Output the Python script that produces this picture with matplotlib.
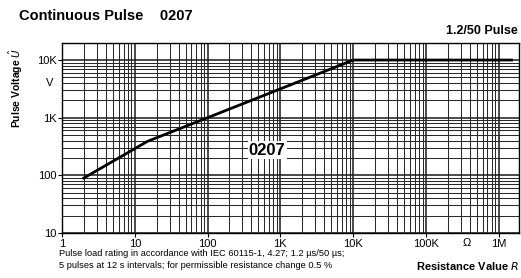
import matplotlib
matplotlib.use("Agg")
import matplotlib.pyplot as plt
from matplotlib.ticker import NullFormatter, LogLocator
from matplotlib.transforms import blended_transform_factory

plt.rcParams['font.family'] = ['Liberation Sans', 'DejaVu Sans']

# curve data (resistance in ohm, pulse voltage in V)
res = [2, 15, 100, 10000, 1.5e6]
volt = [90, 390, 1000, 10000, 10000]

x_ticks = [1, 10, 100, 1e3, 1e4, 1e5, 1e6]
x_labels = ['1', '10', '100', '1K', '10K', '100K', '1M']
y_ticks = [10, 100, 1e3, 1e4]
y_labels = ['10', '100', '1K', '10K']
x_unit_pos = 3.6e5   # position of the unit label "Ω"
y_unit_pos = 4.0e3   # position of the unit label "V"

fig = plt.figure(figsize=(5.21, 2.78), dpi=100)
ax = fig.add_axes([62/521, 1-233/278, (519-62)/521, (233-42.7)/278])
ax.set_xscale('log')
ax.set_yscale('log')
ax.set_xlim(1, 1.9e6)
ax.set_ylim(10, 2.0e4)

ax.xaxis.set_minor_locator(LogLocator(base=10, subs=range(2, 10), numticks=20))
ax.yaxis.set_minor_locator(LogLocator(base=10, subs=range(2, 10), numticks=20))
ax.xaxis.set_minor_formatter(NullFormatter())
ax.yaxis.set_minor_formatter(NullFormatter())

ax.grid(True, which='minor', color='#2a2a2a', linewidth=0.75)
ax.grid(True, which='major', color='#1a1a1a', linewidth=1.1)
ax.set_axisbelow(True)

ax.set_xticks(x_ticks)
ax.set_xticklabels(x_labels, fontsize=8)
ax.set_yticks(y_ticks)
ax.set_yticklabels(y_labels, fontsize=8)
ax.tick_params(which='major', length=3, width=0.8, pad=1)
ax.tick_params(which='minor', length=0)
for s in ax.spines.values():
    s.set_linewidth(1.0)

tx = blended_transform_factory(ax.transData, ax.transAxes)
ax.text(x_unit_pos, -0.025, 'Ω', transform=tx, fontsize=8, ha='center', va='top')
ty = blended_transform_factory(ax.transAxes, ax.transData)
ax.text(-0.018, y_unit_pos, 'V', transform=ty, fontsize=8, ha='right', va='center')

ax.plot(res, volt, color='black', linewidth=2.0, zorder=3)
ax.text(660, 275, '0207', fontsize=12, fontweight='bold', ha='center', va='center',
        bbox=dict(facecolor='white', edgecolor='none', pad=1), zorder=4)

fig.text(19/521, 1-16/278, 'Continuous Pulse    0207', fontsize=10.5, fontweight='bold',
         ha='left', va='center')
fig.text(518/521, 1-31/278, '1.2/50 Pulse', fontsize=9, fontweight='bold',
         ha='right', va='center')
fig.text(16/521, 1-88/278, 'Pulse Voltage $\\hat{U}$', fontsize=7.5, fontweight='bold',
         rotation=90, ha='center', va='center')
fig.text(519/521, 1-266/278, 'Resistance Value $R$', fontsize=8, fontweight='bold',
         ha='right', va='center')
fig.text(59/521, 1-254/278,
         'Pulse load rating in accordance with IEC 60115-1, 4.27; 1.2 µs/50 µs;',
         fontsize=6.7, ha='left', va='center')
fig.text(59/521, 1-266/278,
         '5 pulses at 12 s intervals; for permissible resistance change 0.5 %',
         fontsize=6.7, ha='left', va='center')

fig.savefig('out.png', dpi=100)
